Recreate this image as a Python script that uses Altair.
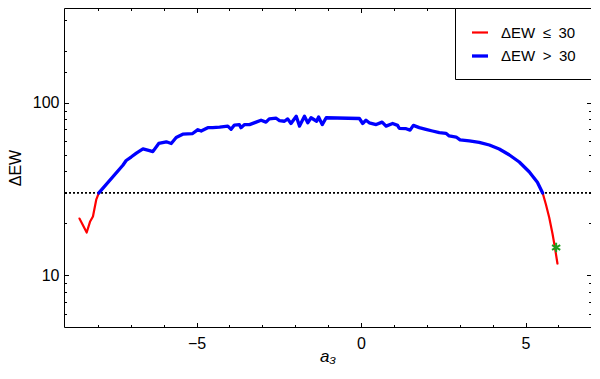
import altair as alt
import pandas as pd

# ---------------- data ----------------
x_low = [-8.56, -8.34, -8.24, -8.15, -8.05, -7.97]
y_low = [21.3, 17.7, 20.4, 21.9, 27.4, 30.0]

x_mid = [-7.97, -7.24, -7.14, -6.99, -6.83, -6.63, -6.43, -6.33, -6.15, -5.92,
         -5.77, -5.62, -5.42, -5.12, -4.96, -4.86, -4.66, -4.51, -4.30, -4.05,
         -3.95, -3.85, -3.70, -3.65, -3.54, -3.39, -3.19, -3.04, -2.89, -2.79,
         -2.58, -2.48, -2.33, -2.23, -2.13, -1.97, -1.87, -1.72, -1.62, -1.52,
         -1.35, -1.29, -1.18, -1.06, -0.05, 0.05, 0.15, 0.25, 0.46, 0.64,
         0.76, 0.96, 1.11, 1.16, 1.37, 1.49, 1.59, 1.77, 1.97, 2.17,
         2.38, 2.58, 2.68, 2.89, 3.01, 3.29, 3.59, 3.90, 4.20, 4.50,
         4.81, 5.11, 5.36, 5.52]
y_mid = [30.0, 43.4, 46.2, 48.4, 51.0, 53.9, 52.7, 52.0, 58.0, 59.3,
         58.0, 62.8, 65.6, 66.2, 69.7, 68.5, 71.6, 71.6, 72.1, 73.1,
         70.0, 74.1, 74.6, 71.6, 74.6, 74.6, 77.1, 79.1, 77.1, 80.5,
         81.2, 78.7, 78.0, 80.5, 75.7, 83.3, 73.1, 83.3, 76.4, 81.7,
         78.0, 82.6, 74.6, 81.7, 80.9, 75.7, 79.1, 76.4, 74.6, 77.1,
         73.1, 75.7, 73.8, 71.0, 70.6, 69.3, 73.8, 71.6, 70.0, 68.5,
         67.0, 66.4, 64.1, 63.2, 60.8, 60.1, 58.9, 56.8, 53.9, 49.9,
         45.3, 39.8, 34.6, 30.0]

x_high = [5.52, 5.62, 5.72, 5.82, 5.89, 5.97]
y_high = [30.0, 25.7, 21.6, 17.4, 14.6, 11.7]

star_x = [5.93]
star_y = [14.5]

threshold = [30]

series_names = ["ΔEW\u2002≤\u200230", "ΔEW\u2002>\u200230"]

x_major = [-5, 0, 5]
x_minor = [-8, -7, -6, -4, -3, -2, -1, 1, 2, 3, 4, 6]
y_major = [10, 100]
y_minor = [6, 7, 8, 9, 20, 30, 40, 50, 60, 70, 80, 90, 150, 200, 300]

x_domain = [-9.03, 6.99]
y_domain = [5.02, 353]

# ---------------- tables ----------------
red_df = pd.concat([
    pd.DataFrame({"a3": x_low, "d": y_low, "seg": "left"}),
    pd.DataFrame({"a3": x_high, "d": y_high, "seg": "right"}),
])
red_df["series"] = series_names[0]
blue_df = pd.DataFrame({"a3": x_mid, "d": y_mid, "seg": "mid", "series": series_names[1]})
star_df = pd.DataFrame({"a3": star_x, "d": star_y})
thr_df = pd.DataFrame({"d": threshold})

W, H = 527, 319
FONT = "Liberation Sans"

xscale = alt.Scale(domain=x_domain, nice=False, zero=False)
yscale = alt.Scale(type="log", domain=y_domain, nice=False)
color_scale = alt.Scale(domain=series_names, range=["#ff0000", "#0000ff"])
width_scale = alt.Scale(domain=series_names, range=[2.2, 3.3])

x_test = " || ".join(f"datum.value == {v}" for v in x_major)
y_test = " || ".join(f"datum.value == {v}" for v in y_major)
x_ticks = sorted(x_major + x_minor)
y_ticks = sorted(y_major + y_minor)


def tick_axis(orient, offset, values, test):
    return alt.Axis(orient=orient, offset=offset, values=values, labels=False,
                    domain=False, grid=False, title=None, tickColor="black",
                    tickWidth=1,
                    tickSize={"condition": {"test": test, "value": 4.5}, "value": 2.5})


legend = alt.Legend(title=None, orient="top-right", offset=0, strokeColor="black",
                    fillColor="white", padding=15, symbolType="stroke",
                    symbolSize=256, labelFontSize=15, labelFont=FONT,
                    labelColor="black", rowPadding=5, labelOffset=11,
                    cornerRadius=0)

rule = alt.Chart(thr_df).mark_rule(color="black", strokeDash=[2, 2], strokeWidth=1.6).encode(
    y=alt.Y("d:Q", scale=yscale, axis=None)
)

red = alt.Chart(red_df).mark_line(strokeJoin="round", strokeCap="round").encode(
    x=alt.X("a3:Q", scale=xscale,
            axis=alt.Axis(values=x_major, ticks=False, domain=False, grid=False,
                          title="a₃", titleFontStyle="italic", titleFontWeight="normal",
                          titleFontSize=17, labelFontSize=16, labelFont=FONT,
                          titleFont=FONT, labelColor="black", titleColor="black",
                          labelPadding=8, titlePadding=-3)),
    y=alt.Y("d:Q", scale=yscale,
            axis=alt.Axis(values=y_major, ticks=False, domain=False, grid=False,
                          title="ΔEW", titleFontWeight="normal", titleFontSize=16,
                          labelFontSize=16, labelFont=FONT, titleFont=FONT,
                          labelColor="black", titleColor="black",
                          labelPadding=5, titlePadding=9)),
    color=alt.Color("series:N", scale=color_scale, legend=legend),
    strokeWidth=alt.StrokeWidth("series:N", scale=width_scale, legend=legend),
    detail="seg:N",
)

blue = alt.Chart(blue_df).mark_line(strokeJoin="round", strokeCap="round").encode(
    x=alt.X("a3:Q", scale=xscale, axis=tick_axis("top", -H, x_ticks, x_test)),
    y=alt.Y("d:Q", scale=yscale, axis=tick_axis("right", -W, y_ticks, y_test)),
    color=alt.Color("series:N", scale=color_scale, legend=legend),
    strokeWidth=alt.StrokeWidth("series:N", scale=width_scale, legend=legend),
)

star = alt.Chart(star_df).mark_point(
    shape="M0,-1L0,1M-0.866,-0.5L0.866,0.5M-0.866,0.5L0.866,-0.5",
    filled=False, stroke="#1f9e1f", strokeWidth=2, size=90, opacity=1,
).encode(
    x=alt.X("a3:Q", scale=xscale, axis=tick_axis("bottom", -H, x_ticks, x_test)),
    y=alt.Y("d:Q", scale=yscale, axis=tick_axis("left", -W, y_ticks, y_test)),
)

chart = alt.layer(rule, red, blue, star).resolve_axis(
    x="independent", y="independent"
).properties(
    width=W, height=H,
    autosize=alt.AutoSizeParams(type="none"),
    padding={"left": 56, "top": 0, "right": 0, "bottom": 52},
    background="white",
).configure_view(stroke="black", strokeWidth=1)

chart.save("out.html", embed_options={"renderer": "svg", "actions": False})
